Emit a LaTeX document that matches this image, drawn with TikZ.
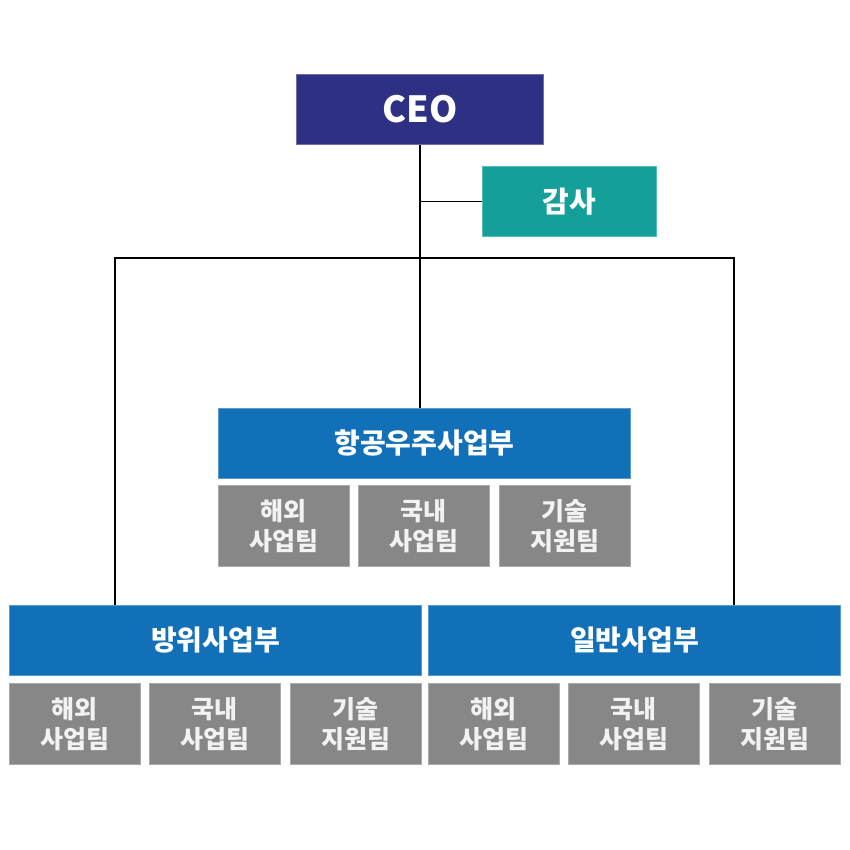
\documentclass[tikz,border=0pt]{standalone}
\usepackage{fontspec}
\setmainfont{Noto Sans CJK KR}
\definecolor{orgNavy}{HTML}{2E3084}
\definecolor{orgTeal}{HTML}{14A098}
\definecolor{orgBlue}{HTML}{1170B8}
\definecolor{orgGray}{HTML}{878787}

\begin{document}
\begin{tikzpicture}[x=1pt, y=-1pt, line width=1.3pt,
	box/.style={fill=#1, draw=#1!70!white, line width=0.8pt, text=white,
		font=\bfseries, inner sep=0pt, anchor=north west, align=center},
	head/.style={box=#1, minimum width=247pt, minimum height=70pt, font=\bfseries\fontsize{36}{40}\selectfont},
	side/.style={box=orgTeal, minimum width=174pt, minimum height=70pt, font=\bfseries\fontsize{29}{32}\selectfont},
	dept/.style={box=orgBlue, minimum width=412pt, minimum height=70pt, font=\bfseries\fontsize{28}{32}\selectfont},
	team/.style={box=orgGray, minimum width=131pt, minimum height=81pt, text=white!95!black, font=\bfseries\fontsize{25}{30}\selectfont}]
	\useasboundingbox (0,0) rectangle (850,850);

	\node[head=orgNavy] (ceo)   at (296,74)  {CEO};
	\node[side]         (audit) at (482,166) {감사};

	\node[dept] (aero)    at (218,408) {항공우주사업부};
	\node[dept] (defense) at (9,605)   {방위사업부};
	\node[dept] (general) at (428,605) {일반사업부};

	\node[team] (aeroA) at (218,485) {해외\\사업팀};
	\node[team] (aeroB) at (358,485) {국내\\사업팀};
	\node[team] (aeroC) at (499,485) {기술\\지원팀};

	\node[team] (defA) at (9,683)   {해외\\사업팀};
	\node[team] (defB) at (149,683) {국내\\사업팀};
	\node[team] (defC) at (290,683) {기술\\지원팀};

	\node[team] (genA) at (428,683) {해외\\사업팀};
	\node[team] (genB) at (568,683) {국내\\사업팀};
	\node[team] (genC) at (709,683) {기술\\지원팀};

	\coordinate (busL) at (115,258);
	\coordinate (busR) at (734,258);

	\draw (ceo.south) -- (ceo.south |- aero.north);
	\draw (ceo.south |- audit.west) -- (audit.west);
	\draw (busL |- defense.north) -- (busL) -- (busR) -- (busR |- general.north);
\end{tikzpicture}
\end{document}
